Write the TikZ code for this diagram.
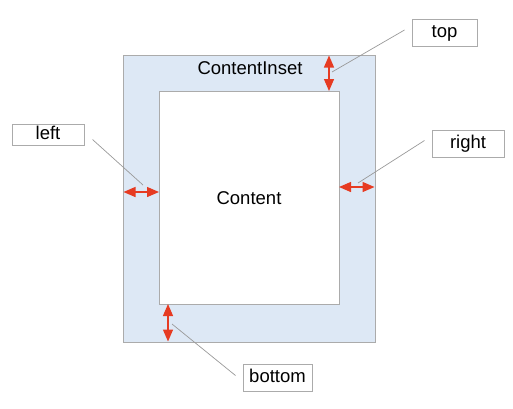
\documentclass[tikz,border=0pt]{standalone}
\usepackage{fontspec}
\setmainfont{Liberation Sans}
\usetikzlibrary{arrows.meta}
\definecolor{insetblue}{HTML}{DDE8F5}
\definecolor{framegray}{HTML}{ABABAB}
\definecolor{insetred}{HTML}{E63B22}
\begin{document}
\begin{tikzpicture}[x=1pt,y=-1pt]
\tikzstyle{every node}=[inner sep=0pt, font=\fontsize{18.5}{22}\selectfont]
\tikzstyle{frame}=[draw=framegray, line width=1pt]
\tikzstyle{tag}=[draw=framegray, fill=white, line width=1pt, text height=13pt, text depth=4pt]
\tikzstyle{gap}=[insetred, line width=1.3pt, {Triangle[length=12pt,width=10pt]}-{Triangle[length=12pt,width=10pt]}]
\tikzstyle{leader}=[draw=gray!80, line width=0.7pt]
\useasboundingbox (0,0) rectangle (513,408);
\node (inset) at (249,198.5) [frame, fill=insetblue, minimum width=252pt, minimum height=287pt] {};
\node (content) at (249,197.5) [frame, fill=white, minimum width=180pt, minimum height=213pt] {};
\node (insetlbl) at (250,68) {ContentInset};
\node (contentlbl) at (249,198) {Content};
\node (top) at (444.5,33) [tag, minimum width=65pt, minimum height=27pt] {top};
\node (left) at (48,134.5) [tag, minimum width=72pt, minimum height=21pt] {left};
\node (right) at (468,143.5) [tag, minimum width=72pt, minimum height=27pt] {right};
\node (bottom) at (277.5,377.5) [tag, minimum width=69pt, minimum height=27pt] {bottom};
\coordinate (t1) at (329,55.5);
\coordinate (t2) at (329,91);
\coordinate (l1) at (123.5,192);
\coordinate (l2) at (159,192);
\coordinate (r1) at (339,187);
\coordinate (r2) at (374.5,187);
\coordinate (b1) at (168,304);
\coordinate (b2) at (168,341.5);
\coordinate (tp) at (332,72);
\coordinate (lp) at (143,185);
\coordinate (rp) at (358,183);
\coordinate (bp) at (172,324);
\draw[gap] (t1) -- (t2);
\draw[gap] (l1) -- (l2);
\draw[gap] (r1) -- (r2);
\draw[gap] (b1) -- (b2);
\draw[leader] ([xshift=-7pt,yshift=3pt]top.west) -- (tp);
\draw[leader] ([xshift=8pt,yshift=6pt]left.south east) -- (lp);
\draw[leader] ([xshift=-7pt,yshift=3pt]right.west) -- (rp);
\draw[leader] ([xshift=-7pt,yshift=2pt]bottom.west) -- (bp);
\end{tikzpicture}
\end{document}
